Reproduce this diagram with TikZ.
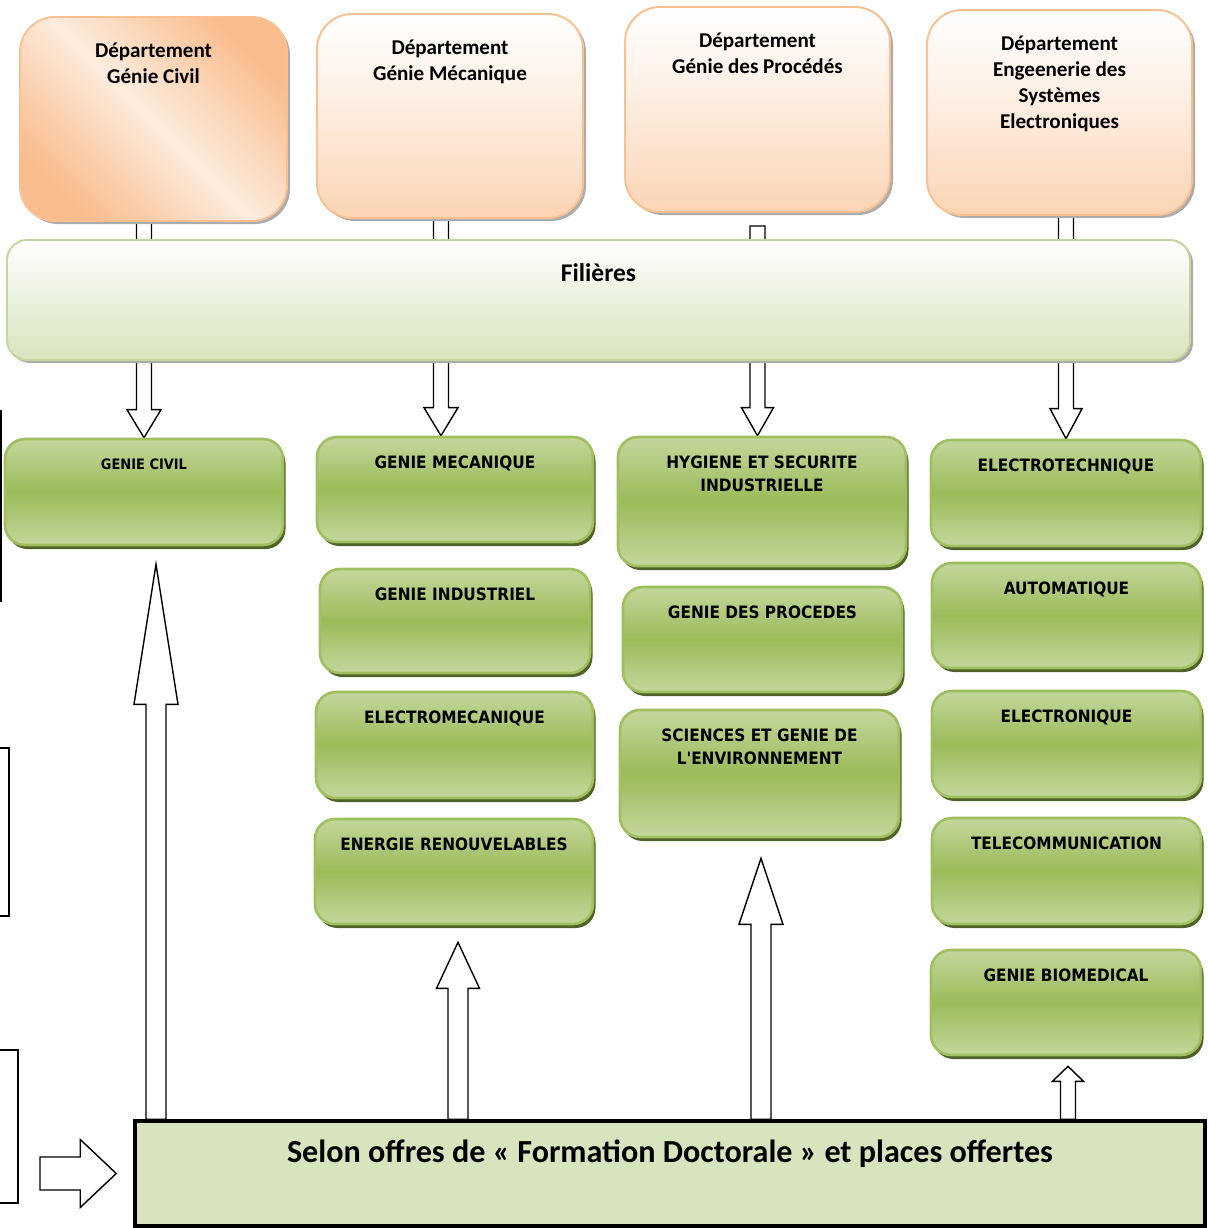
\documentclass[tikz,border=0pt]{standalone}
\usepackage{fontspec}
\setmainfont{Carlito}
\newfontfamily\comicfont{DejaVu Sans}[FakeStretch=0.9]
\usetikzlibrary{shadows,calc,backgrounds}
\definecolor{orngline}{RGB}{250,192,144}
\definecolor{orngfill}{RGB}{251,212,180}
\definecolor{orngpale}{RGB}{253,236,222}
\definecolor{orngdeep}{RGB}{249,188,140}
\definecolor{grnline}{RGB}{160,192,96}
\definecolor{grnmid}{RGB}{155,187,89}
\definecolor{grnpale}{RGB}{196,215,157}
\definecolor{grnshadow}{RGB}{79,98,40}
\definecolor{filfill}{RGB}{215,228,189}
\definecolor{filline}{RGB}{195,214,155}
\tikzset{boxsize/.style 2 args={minimum width=#1*0.02cm, minimum height=#2*0.02cm}}
\tikzset{dept/.style={draw=orngline, line width=1.1pt, rounded corners=0.7cm,
    top color=white, bottom color=orngfill, middle color=orngpale,
    drop shadow={shadow xshift=0.06cm, shadow yshift=-0.06cm, fill=gray!65, opacity=1}}}
\tikzset{dept title/.style={label={[anchor=north, yshift=-0.53cm, inner sep=0pt, align=center,
    font=\bfseries\fontsize{12}{14.9}\selectfont]north:{#1}}}}
\tikzset{bar/.style={draw=filline, line width=1.1pt, rounded corners=0.4cm,
    top color=white, bottom color=filfill,
    drop shadow={shadow xshift=0.06cm, shadow yshift=-0.06cm, fill=gray!65, opacity=1}}}
\tikzset{filiere/.style={draw=grnline, line width=1.5pt, rounded corners=0.4cm,
    top color=grnpale, bottom color=grnpale, middle color=grnmid,
    drop shadow={shadow xshift=0.05cm, shadow yshift=-0.08cm, fill=grnshadow, opacity=1}}}
\tikzset{filiere title/.style={label={[anchor=north, yshift=-0.4cm, inner sep=0pt, align=center,
    font=\comicfont\bfseries\fontsize{9.7}{13}\selectfont]north:{#1}}}}
\tikzset{small title/.style={label={[anchor=north, yshift=-0.42cm, inner sep=0pt, align=center,
    font=\comicfont\bfseries\fontsize{8.2}{11}\selectfont]north:{#1}}}}
\tikzset{block/.style={draw=black, fill=white, line width=0.8pt, line join=miter}}
% block arrows: start, tip, stem half width, head half width, head length (in px)
\newcommand{\downblock}[5]{%
  \draw[block] let \p1=(#1), \p2=(#2) in
    (\x2-#3*0.02cm,\y1) -- (\x2-#3*0.02cm,\y2+#5*0.02cm) -- (\x2-#4*0.02cm,\y2+#5*0.02cm)
    -- (\x2,\y2) -- (\x2+#4*0.02cm,\y2+#5*0.02cm) -- (\x2+#3*0.02cm,\y2+#5*0.02cm)
    -- (\x2+#3*0.02cm,\y1) -- cycle;}
\newcommand{\upblock}[5]{%
  \draw[block] let \p1=(#1), \p2=(#2) in
    (\x2-#3*0.02cm,\y1) -- (\x2-#3*0.02cm,\y2-#5*0.02cm) -- (\x2-#4*0.02cm,\y2-#5*0.02cm)
    -- (\x2,\y2) -- (\x2+#4*0.02cm,\y2-#5*0.02cm) -- (\x2+#3*0.02cm,\y2-#5*0.02cm)
    -- (\x2+#3*0.02cm,\y1) -- cycle;}
\begin{document}
\begin{tikzpicture}[x=0.02cm, y=-0.02cm]
  \path[use as bounding box] (0,0) rectangle (1209,1228);
  \clip (0,0) rectangle (1209,1228);

  %% Departements
  \draw (153.5,119) node[dept, top color=orngdeep, bottom color=orngdeep, middle color=orngpale,
    shading angle=-45, boxsize={267}{204}, dept title={Département\\Génie Civil}] (D1) {};
  \draw (450,116) node[dept, boxsize={266}{204}, dept title={Département\\Génie Mécanique}] (D2) {};
  \draw (757.5,109.5) node[dept, boxsize={265}{205}, dept title={Département\\Génie des Procédés}] (D3) {};
  \draw (1059.5,112.5) node[dept, boxsize={265}{205},
    dept title={Département\\Engeenerie des\\Systèmes\\Electroniques}] (D4) {};

  %% Filieres
  \draw (598.5,300) node[bar, boxsize={1183}{120},
    label={[anchor=north, yshift=-0.48cm, inner sep=0pt, font=\bfseries\fontsize{14.5}{17}\selectfont]north:Filières}] (FIL) {};

  \draw (144,492) node[filiere, boxsize={278}{106}, small title={GENIE CIVIL}] (GC) {};

  \draw (455,489.5) node[filiere, boxsize={276}{105}, filiere title={GENIE MECANIQUE}] (GM) {};
  \draw (455,621) node[filiere, boxsize={270}{104}, filiere title={GENIE INDUSTRIEL}] (GI) {};
  \draw (454.5,745) node[filiere, boxsize={277}{106}, filiere title={ELECTROMECANIQUE}] (EM) {};
  \draw (454,871.5) node[filiere, boxsize={278}{105}, filiere title={ENERGIE RENOUVELABLES}] (ER) {};

  \draw (762,501.5) node[filiere, boxsize={288}{129},
    filiere title={HYGIENE ET SECURITE\\INDUSTRIELLE}] (HSI) {};
  \draw (762.5,639.5) node[filiere, boxsize={279}{105}, filiere title={GENIE DES PROCEDES}] (GP) {};
  \draw (759.5,773.5) node[filiere, boxsize={279}{127},
    filiere title={SCIENCES ET GENIE DE\\L'ENVIRONNEMENT}] (SGE) {};

  \draw (1066,493) node[filiere, boxsize={270}{106}, filiere title={ELECTROTECHNIQUE}] (ET) {};
  \draw (1066.5,615.5) node[filiere, boxsize={269}{105}, filiere title={AUTOMATIQUE}] (AU) {};
  \draw (1066.5,744) node[filiere, boxsize={269}{106}, filiere title={ELECTRONIQUE}] (EL) {};
  \draw (1066.5,871) node[filiere, boxsize={269}{106}, filiere title={TELECOMMUNICATION}] (TE) {};
  \draw (1066,1002.5) node[filiere, boxsize={270}{105}, filiere title={GENIE BIOMEDICAL}] (GB) {};

  %% Formation doctorale
  \draw (670,1173.5) node[draw=black, line width=2pt, fill=filfill, boxsize={1070}{105},
    label={[anchor=north, yshift=-0.4cm, inner sep=0pt, font=\bfseries\fontsize{18.3}{21}\selectfont]north:Selon offres de « Formation Doctorale » et places offertes}] (BASE) {};

  \coordinate (t2) at ([xshift=-0.28cm]GM.north);
  \coordinate (s3) at ([yshift=-0.26cm]D3.south);
  \coordinate (u1) at ([xshift=0.24cm,yshift=-0.36cm]GC.south);
  \coordinate (u2) at ([xshift=0.08cm,yshift=-0.34cm]ER.south);
  \coordinate (u3) at ([xshift=0.03cm,yshift=-0.4cm]SGE.south);
  \coordinate (u4) at ([xshift=0.04cm,yshift=-0.2cm]GB.south);
  \coordinate (lstart) at (40,1176);
  \coordinate (ltip) at ([xshift=-0.34cm]BASE.west);

  \begin{scope}[on background layer]
    \downblock{GC.north |- D1.south}{GC.north}{7.5}{17}{28}
    \downblock{t2 |- D2.south}{t2}{7.5}{17}{28}
    \downblock{s3}{s3 |- HSI.north}{7.5}{16}{28}
    \downblock{ET.north |- D4.south}{ET.north}{7.5}{16}{30}

    \upblock{u1 |- BASE.north}{u1}{10}{22}{140}
    \upblock{u2 |- BASE.north}{u2}{10}{21.5}{46}
    \upblock{u3 |- BASE.north}{u3}{10}{22}{66}
    \upblock{u4 |- BASE.north}{u4}{7.5}{15.5}{15}

    \draw[block] let \p1=(lstart), \p2=(ltip) in
      (\x1,\y2-16.5*0.02cm) -- (\x2-36*0.02cm,\y2-16.5*0.02cm) -- (\x2-36*0.02cm,\y2-34*0.02cm)
      -- (\x2,\y2) -- (\x2-36*0.02cm,\y2+34*0.02cm) -- (\x2-36*0.02cm,\y2+16.5*0.02cm)
      -- (\x1,\y2+16.5*0.02cm) -- cycle;
  \end{scope}

  %% cut off at the left
  \draw[line width=0.9pt] (1,410) -- (1,602);
  \draw[line width=0.9pt] (-20,748) rectangle (9,916);
  \draw[line width=0.9pt] (-20,1050) rectangle (18,1203);
\end{tikzpicture}
\end{document}
